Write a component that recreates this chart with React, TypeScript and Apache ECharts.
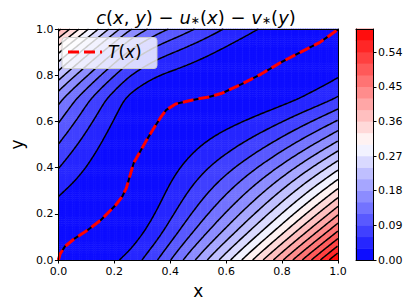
import { useEffect, useRef } from 'react';
import * as echarts from 'echarts';

// Optimal transport map T(x)
const transportX = [0, 0.006, 0.023, 0.059, 0.105, 0.152, 0.205, 0.228, 0.243, 0.255, 0.269, 0.288, 0.316, 0.345, 0.365, 0.386, 0.421, 0.48, 0.538, 0.585, 0.655, 0.725, 0.795, 0.865, 0.935, 1.0];
const transportY = [0, 0.026, 0.058, 0.094, 0.13, 0.173, 0.238, 0.274, 0.311, 0.361, 0.419, 0.46, 0.52, 0.578, 0.616, 0.65, 0.676, 0.693, 0.706, 0.722, 0.761, 0.805, 0.855, 0.899, 0.942, 0.998];
// contour levels
const levels = [0, 0.03, 0.06, 0.09, 0.12, 0.15, 0.18, 0.21, 0.24, 0.27, 0.3, 0.33, 0.36, 0.39, 0.42, 0.45, 0.48, 0.51, 0.54, 0.57, 0.6];
const colorbarTicks = [0, 0.09, 0.18, 0.27, 0.36, 0.45, 0.54];
const axisTicks = [0, 0.2, 0.4, 0.6, 0.8, 1.0];

const FONT = 'DejaVu Sans';
const HEAT_N = 120;
const NODE_M = 200;

function bwr(t: number): string {
  let r: number, g: number, b: number;
  if (t < 0.5) {
    r = g = Math.round(510 * t);
    b = 255;
  } else {
    r = 255;
    g = b = Math.round(255 * (2 - 2 * t));
  }
  return `rgb(${r},${g},${b})`;
}

// integral from 0 to t of the piecewise-linear function through (xs, ys)
function cumInt(xs: number[], ys: number[], t: number): number {
  let s = 0;
  for (let k = 0; k < xs.length - 1; k++) {
    const a = xs[k], b = xs[k + 1];
    if (t <= a) break;
    const e = Math.min(t, b);
    const ya = ys[k];
    const ye = ys[k] + ((ys[k + 1] - ys[k]) * (e - a)) / (b - a);
    s += ((ya + ye) / 2) * (e - a);
  }
  const lx = xs[xs.length - 1];
  if (t > lx) s += ys[ys.length - 1] * (t - lx);
  return s;
}

// c(x,y) - u(x) - v(y) with c = (x-y)^2/2  ==  phi(x) + psi(y) - x*y
function phi(x: number) { return cumInt(transportX, transportY, x); }
function psi(y: number) { return cumInt(transportY, transportX, y); }

function buildHeat(): number[][] {
  const out: number[][] = [];
  const px: number[] = [], py: number[] = [];
  for (let i = 0; i < HEAT_N; i++) {
    const c = (i + 0.5) / HEAT_N;
    px.push(phi(c));
    py.push(psi(c));
  }
  for (let j = 0; j < HEAT_N; j++) {
    const y = (j + 0.5) / HEAT_N;
    for (let i = 0; i < HEAT_N; i++) {
      const x = (i + 0.5) / HEAT_N;
      out.push([i, j, Math.max(0, px[i] + py[j] - x * y)]);
    }
  }
  return out;
}

function buildNodes(): Float64Array {
  const n = NODE_M + 1;
  const vals = new Float64Array(n * n);
  const px: number[] = [], py: number[] = [];
  for (let i = 0; i < n; i++) {
    px.push(phi(i / NODE_M));
    py.push(psi(i / NODE_M));
  }
  for (let j = 0; j < n; j++) {
    for (let i = 0; i < n; i++) {
      vals[j * n + i] = px[i] + py[j] - (i / NODE_M) * (j / NODE_M);
    }
  }
  return vals;
}

function contour(vals: Float64Array, level: number): number[][][] {
  const n = NODE_M + 1;
  const M = NODE_M;
  const V = (i: number, j: number) => vals[j * n + i];
  const pts = new Map<number, number[]>();
  const adj = new Map<number, number[]>();
  const segs: number[][] = [];
  const add = (ka: number, pa: number[], kb: number, pb: number[]) => {
    pts.set(ka, pa);
    pts.set(kb, pb);
    const id = segs.length;
    segs.push([ka, kb]);
    if (!adj.has(ka)) adj.set(ka, []);
    if (!adj.has(kb)) adj.set(kb, []);
    adj.get(ka)!.push(id);
    adj.get(kb)!.push(id);
  };
  for (let j = 0; j < M; j++) {
    for (let i = 0; i < M; i++) {
      const a = V(i, j), b = V(i + 1, j), c = V(i + 1, j + 1), d = V(i, j + 1);
      const sa = a < level, sb = b < level, sc = c < level, sd = d < level;
      const e: { [k: string]: [number, number[]] } = {};
      if (sa !== sb) e.bottom = [j * n + i, [(i + (level - a) / (b - a)) / M, j / M]];
      if (sb !== sc) e.right = [n * n + j * n + i + 1, [(i + 1) / M, (j + (level - b) / (c - b)) / M]];
      if (sd !== sc) e.top = [(j + 1) * n + i, [(i + (level - d) / (c - d)) / M, (j + 1) / M]];
      if (sa !== sd) e.left = [n * n + j * n + i, [i / M, (j + (level - a) / (d - a)) / M]];
      const keys = Object.keys(e);
      if (keys.length === 2) {
        add(e[keys[0]][0], e[keys[0]][1], e[keys[1]][0], e[keys[1]][1]);
      } else if (keys.length === 4) {
        const center = (a + b + c + d) / 4;
        if ((center < level) === sa) {
          add(e.bottom[0], e.bottom[1], e.right[0], e.right[1]);
          add(e.top[0], e.top[1], e.left[0], e.left[1]);
        } else {
          add(e.bottom[0], e.bottom[1], e.left[0], e.left[1]);
          add(e.top[0], e.top[1], e.right[0], e.right[1]);
        }
      }
    }
  }
  const used = new Array(segs.length).fill(false);
  const lines: number[][][] = [];
  for (let s = 0; s < segs.length; s++) {
    if (used[s]) continue;
    used[s] = true;
    const chain = [segs[s][0], segs[s][1]];
    let cur = segs[s][1];
    for (;;) {
      const nx = (adj.get(cur) || []).find((id) => !used[id]);
      if (nx === undefined) break;
      used[nx] = true;
      cur = segs[nx][0] === cur ? segs[nx][1] : segs[nx][0];
      chain.push(cur);
    }
    cur = segs[s][0];
    for (;;) {
      const nx = (adj.get(cur) || []).find((id) => !used[id]);
      if (nx === undefined) break;
      used[nx] = true;
      cur = segs[nx][0] === cur ? segs[nx][1] : segs[nx][0];
      chain.unshift(cur);
    }
    lines.push(chain.map((k) => pts.get(k)!));
  }
  return lines;
}

export default function App() {
  const ref = useRef<HTMLDivElement>(null);
  useEffect(() => {
    if (!ref.current) return;
    const chart = echarts.init(ref.current, undefined, { renderer: 'svg' });

    const heat = buildHeat();
    const nodes = buildNodes();
    const nBands = levels.length - 1;
    const pieces = levels.slice(0, -1).map((lo, k) =>
      k === nBands - 1
        ? { gte: lo, color: bwr((k + 0.5) / nBands) }
        : { gte: lo, lt: levels[k + 1], color: bwr((k + 0.5) / nBands) }
    );
    const bandData = levels.slice(0, -1).map((lo, k) => [0, k, (lo + levels[k + 1]) / 2]);

    const contourSeries: any[] = [];
    levels.slice(1, -1).forEach((lv) => {
      contour(nodes, lv).forEach((poly) => {
        contourSeries.push({
          type: 'line',
          xAxisIndex: 0,
          yAxisIndex: 0,
          data: poly,
          symbol: 'none',
          showSymbol: false,
          silent: true,
          lineStyle: { color: '#000', width: 1.5 },
          z: 3,
        });
      });
    });

    const tData = transportX.map((x, i) => [x, transportY[i]]);
    const cats = Array.from({ length: HEAT_N }, (_, i) => String(i));
    const bandCats = levels.slice(0, -1).map((_, i) => String(i));

    const lineOnly = { show: true, onZero: false, lineStyle: { color: '#000', width: 1 } };
    const tickLabel = { color: '#000', fontFamily: FONT, fontSize: 11 };

    chart.setOption({
      animation: false,
      backgroundColor: '#fff',
      grid: [
        { left: 53, top: 29, width: 285, height: 231 },
        { left: 356, top: 29, width: 17, height: 231 },
      ],
      xAxis: [
        {
          type: 'value', gridIndex: 0, position: 'bottom', min: 0, max: 1, interval: 0.2, z: 10,
          axisLine: lineOnly,
          axisTick: { show: true, length: 3.5, lineStyle: { color: '#000' } },
          axisLabel: { ...tickLabel, margin: 6, formatter: (v: number) => v.toFixed(1) },
          splitLine: { show: false },
          name: 'x', nameLocation: 'middle', nameGap: 22,
          nameTextStyle: { color: '#000', fontFamily: FONT, fontSize: 17 },
        },
        { type: 'category', gridIndex: 0, position: 'bottom', data: cats, show: false },
        {
          type: 'value', gridIndex: 0, position: 'top', min: 0, max: 1, z: 10,
          axisLine: lineOnly, axisTick: { show: false }, axisLabel: { show: false }, splitLine: { show: false },
        },
        {
          type: 'category', gridIndex: 1, position: 'bottom', data: ['0'], z: 10,
          axisLine: lineOnly, axisTick: { show: false }, axisLabel: { show: false }, splitLine: { show: false },
        },
        {
          type: 'value', gridIndex: 1, position: 'top', min: 0, max: 1, z: 10,
          axisLine: lineOnly, axisTick: { show: false }, axisLabel: { show: false }, splitLine: { show: false },
        },
      ],
      yAxis: [
        {
          type: 'value', gridIndex: 0, position: 'left', min: 0, max: 1, interval: 0.2, z: 10,
          axisLine: lineOnly,
          axisTick: { show: true, length: 3.5, lineStyle: { color: '#000' } },
          axisLabel: { ...tickLabel, margin: 5, formatter: (v: number) => v.toFixed(1) },
          splitLine: { show: false },
          name: 'y', nameLocation: 'middle', nameGap: 28,
          nameTextStyle: { color: '#000', fontFamily: FONT, fontSize: 17 },
        },
        { type: 'category', gridIndex: 0, position: 'left', data: cats, show: false },
        {
          type: 'value', gridIndex: 0, position: 'right', min: 0, max: 1, z: 10,
          axisLine: lineOnly, axisTick: { show: false }, axisLabel: { show: false }, splitLine: { show: false },
        },
        {
          type: 'category', gridIndex: 1, position: 'left', data: bandCats, z: 10,
          axisLine: lineOnly, axisTick: { show: false }, axisLabel: { show: false }, splitLine: { show: false },
        },
        {
          type: 'value', gridIndex: 1, position: 'right', min: levels[0], max: levels[levels.length - 1], z: 10,
          axisLine: lineOnly,
          axisTick: { show: true, length: 3.5, lineStyle: { color: '#000' }, customValues: colorbarTicks },
          axisLabel: { ...tickLabel, margin: 5, customValues: colorbarTicks, formatter: (v: number) => v.toFixed(2) },
          splitLine: { show: false },
        },
      ],
      visualMap: {
        type: 'piecewise', show: false, dimension: 2, seriesIndex: [0, 1], pieces,
      },
      series: [
        {
          type: 'heatmap', xAxisIndex: 1, yAxisIndex: 1, data: heat, progressive: 0, silent: true,
          itemStyle: { borderWidth: 0 }, emphasis: { disabled: true }, z: 1,
        },
        {
          type: 'heatmap', xAxisIndex: 3, yAxisIndex: 3, data: bandData, progressive: 0, silent: true,
          itemStyle: { borderWidth: 0 }, emphasis: { disabled: true }, z: 1,
        },
        ...contourSeries,
        {
          type: 'line', xAxisIndex: 0, yAxisIndex: 0, data: tData, symbol: 'none', silent: true,
          lineStyle: { color: '#000', width: 2 }, z: 4,
        },
        {
          type: 'line', xAxisIndex: 0, yAxisIndex: 0, data: tData, symbol: 'none', silent: true,
          lineStyle: { color: '#ff0000', width: 3, type: [11, 5] }, z: 5,
        },
      ],
      graphic: [
        {
          type: 'text', x: 196, y: 17, z: 100,
          style: {
            text: '{i|c}{n|(}{i|x}{n|, }{i|y}{n|) − }{i|u}{s|∗}{n|(}{i|x}{n|) − }{i|v}{s|∗}{n|(}{i|y}{n|)}',
            align: 'center', verticalAlign: 'middle',
            rich: {
              i: { fontFamily: FONT, fontStyle: 'italic', fontSize: 18, fill: '#000' },
              n: { fontFamily: FONT, fontSize: 18, fill: '#000' },
              s: { fontFamily: FONT, fontSize: 11, fill: '#000', verticalAlign: 'bottom' },
            },
          },
        },
        {
          type: 'rect', z: 100, shape: { x: 62, y: 37.5, width: 95, height: 31, r: 3 },
          style: { fill: 'rgba(255,255,255,0.8)', stroke: '#cccccc', lineWidth: 1 },
        },
        {
          type: 'line', z: 101, shape: { x1: 68, y1: 52, x2: 102, y2: 52 },
          style: { stroke: '#ff0000', lineWidth: 3, lineDash: [11, 5] },
        },
        {
          type: 'text', x: 108, y: 52, z: 101,
          style: {
            text: '{i|T}{n|(}{i|x}{n|)}',
            align: 'left', verticalAlign: 'middle',
            rich: {
              i: { fontFamily: FONT, fontStyle: 'italic', fontSize: 17, fill: '#000' },
              n: { fontFamily: FONT, fontSize: 17, fill: '#000' },
            },
          },
        },
      ],
    });
    return () => chart.dispose();
  }, []);
  return <div ref={ref} style={{ position: 'fixed', left: 0, top: 0, width: 407, height: 307 }} />;
}
